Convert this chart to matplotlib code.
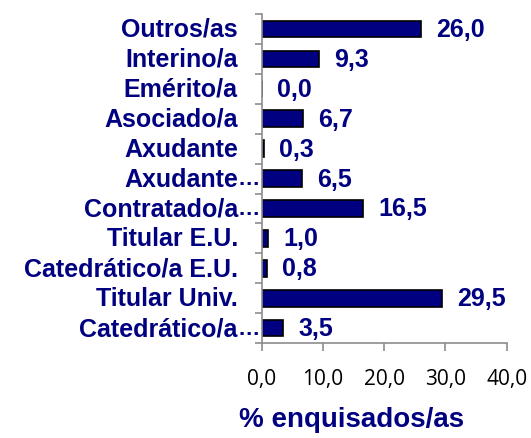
import numpy as np
import matplotlib.pyplot as plt
from matplotlib.transforms import offset_copy

categories = ["Catedrático/a…", "Titular Univ.", "Catedrático/a E.U.", "Titular E.U.",
              "Contratado/a…", "Axudante…", "Axudante", "Asociado/a",
              "Emérito/a", "Interino/a", "Outros/as"]
values = [3.5, 29.5, 0.8, 1.0, 16.5, 6.5, 0.3, 6.7, 0.0, 9.3, 26.0]
xticks = [0, 10, 20, 30, 40]

navy = "#000080"
grey = "#8c8c8c"

fig = plt.figure(figsize=(5.31, 4.39), dpi=100)
ax = fig.add_axes([0.493, 0.216, 0.461, 0.75])

y = np.arange(len(categories))
ax.barh(y, values, height=0.55, color=navy, edgecolor="black", linewidth=1.2)

for yi, v in zip(y, values):
    ax.annotate(f"{v:.1f}".replace(".", ","), (v, yi), xytext=(11, 0),
                textcoords="offset points", va="center", ha="left",
                fontsize=18, fontweight="bold", color=navy, family="Liberation Sans")

ax.set_xlim(0, 40)
ax.set_ylim(-0.5, len(categories) - 0.5)
ax.set_xticks(xticks)
ax.set_xticklabels([f"{t:.1f}".replace(".", ",") for t in xticks],
                   fontsize=15, family="Open Sans", color="black")
ax.set_yticks([])
ax.set_yticks(np.arange(len(categories) + 1) - 0.5, minor=True)
ax.tick_params(axis="y", which="minor", length=5, color=grey, width=1.2, direction="out")
ax.tick_params(axis="x", length=6, color=grey, width=1.2, direction="out", pad=12)

# category labels: right-aligned text, with the ellipsis hanging past the edge
ytrans = ax.get_yaxis_transform()
lab_trans = offset_copy(ytrans, fig=fig, x=-24, y=0, units="dots")
for yi, name in zip(y, categories):
    base = name.rstrip("…")
    ax.text(0, yi, base, transform=lab_trans, ha="right", va="center",
            fontsize=18, fontweight="bold", color=navy, family="Liberation Sans")
    if name.endswith("…"):
        ax.text(0, yi, "…", transform=lab_trans, ha="left", va="center",
                fontsize=16, fontweight="bold", color=navy, family="Liberation Sans")

for s in ["top", "right"]:
    ax.spines[s].set_visible(False)
for s in ["left", "bottom"]:
    ax.spines[s].set_color(grey)
    ax.spines[s].set_linewidth(1.2)

ax.set_xlabel("% enquisados/as", fontsize=20, fontweight="bold", color=navy,
              family="Liberation Sans")
ax.xaxis.set_label_coords(0.367, -0.19)

fig.savefig("out.png", dpi=100)
